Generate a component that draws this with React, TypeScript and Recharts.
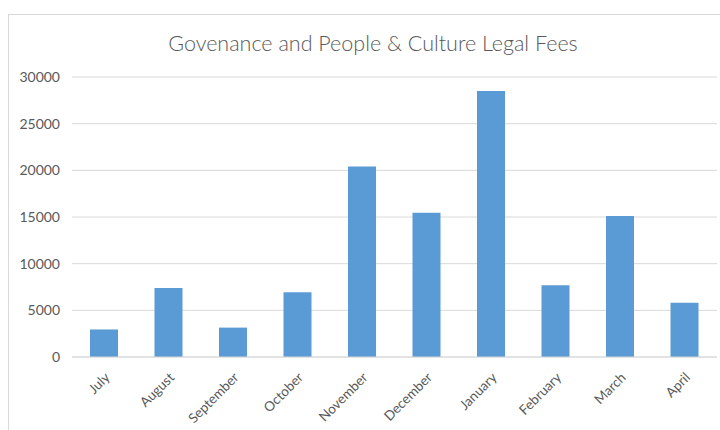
import { Bar, BarChart, CartesianGrid, XAxis, YAxis } from 'recharts';

const months = ['July', 'August', 'September', 'October', 'November', 'December', 'January', 'February', 'March', 'April'];
const fees = [2950, 7400, 3150, 6950, 20400, 15450, 28500, 7700, 15100, 5800];
const yTicks = [0, 5000, 10000, 15000, 20000, 25000, 30000];

const data = months.map((month, i) => ({ month, fees: fees[i] }));

const font = 'Lato, "Open Sans", sans-serif';

const MonthTick = ({ x, y, payload }: any) => (
  <g transform={`translate(${x + 3},${y + 10})`}>
    <text textAnchor="end" transform="rotate(-45)" fill="#595959" fontSize={13.5} fontFamily={font} dy="0.35em">
      {payload.value}
    </text>
  </g>
);

const App = () => {
  return (
    <div style={{ position: 'absolute', left: 0, top: 0, width: 720, height: 430, background: '#fff', overflow: 'hidden' }}>
      <div
        style={{
          position: 'absolute',
          left: 8,
          top: 14,
          width: 730,
          height: 440,
          border: '1px solid #d9d9d9',
        }}
      />
      <div
        style={{
          position: 'absolute',
          left: 0,
          top: 29,
          width: 746,
          textAlign: 'center',
          fontFamily: font,
          fontSize: 21.5,
          fontWeight: 300,
          color: '#595959',
          lineHeight: '28px',
        }}
      >
        Govenance and People &amp; Culture Legal Fees
      </div>
      <div style={{ position: 'absolute', left: 0, top: 0 }}>
        <BarChart width={720} height={430} data={data} margin={{ top: 77, right: 3, bottom: 0, left: 0 }}>
          <CartesianGrid vertical={false} stroke="#d9d9d9" />
          <XAxis
            dataKey="month"
            height={73}
            axisLine={{ stroke: '#d9d9d9' }}
            tickLine={false}
            interval={0}
            tick={<MonthTick />}
          />
          <YAxis
            width={72}
            domain={[0, 30000]}
            ticks={yTicks}
            axisLine={false}
            tickLine={false}
            tickSize={0}
            tickMargin={12}
            tick={{ fill: '#595959', fontSize: 14, fontFamily: font }}
          />
          <Bar dataKey="fees" fill="#5b9bd5" barSize={28} isAnimationActive={false} />
        </BarChart>
      </div>
    </div>
  );
};

export default App;
